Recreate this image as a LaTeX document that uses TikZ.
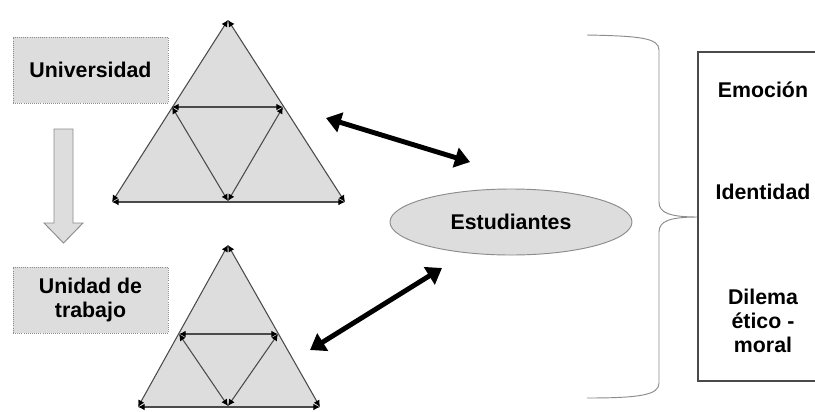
\documentclass[tikz,border=0pt]{standalone}
\usepackage{fontspec}
\setmainfont{Liberation Sans}
\usetikzlibrary{arrows.meta, shapes.geometric}
\definecolor{cfill}{HTML}{DDDDDD}
\definecolor{cline}{HTML}{4A4A4A}
\definecolor{cborder}{HTML}{8C8C8C}
\tikzset{
  every picture/.style={font=\fontsize{18.2}{21}\selectfont\bfseries},
  labelbox/.style={draw=cborder, densely dotted, line width=0.8pt, fill=cfill, minimum width=4.65cm, minimum height=1.98cm, align=center},
  side/.style={draw=cline, line width=0.9pt, {Latex[black, length=2mm, width=2mm]}-{Latex[black, length=2mm, width=2mm]}},
  bigarrow/.style={line width=4.2pt, {Triangle[length=0.45cm, width=0.6cm]}-{Triangle[length=0.45cm, width=0.6cm]}},
  item/.style={align=center, font=\fontsize{18.2}{20.4}\selectfont\bfseries},
}
\begin{document}
\begin{tikzpicture}[x=0.03cm, y=-0.03cm]
  \useasboundingbox (0,0) rectangle (815,411);
  % left boxes and the hollow arrow between them
  \node[labelbox] (univ) at (90.5,70) {Universidad};
  \node[labelbox] (unid) at (90.5,300) {Unidad de\\trabajo};
  \draw[draw=cborder, fill=cfill, line width=0.8pt] (54,129) -- (73,129) -- (73,223) -- (83,223) -- (63.5,243) -- (44,223) -- (54,223) -- cycle;
  % upper triangle
  \coordinate (ua) at (228,20);
  \coordinate (ul) at (112,202);
  \coordinate (ur) at (345,202);
  \coordinate (um1) at (172,107);
  \coordinate (um2) at (283,107);
  \coordinate (um3) at (228,201);
  \fill[cfill] (ua) -- (ul) -- (ur) -- cycle;
  \foreach \a/\b in {ua/ul, ul/ur, ur/ua, um1/um2, um2/um3, um3/um1}
    \draw[side] (\a) -- (\b);
  % lower triangle
  \coordinate (la) at (228,245);
  \coordinate (ll) at (138,407);
  \coordinate (lr) at (320,407);
  \coordinate (lm1) at (179,334);
  \coordinate (lm2) at (278,334);
  \coordinate (lm3) at (228,406);
  \fill[cfill] (la) -- (ll) -- (lr) -- cycle;
  \foreach \a/\b in {la/ll, ll/lr, lr/la, lm1/lm2, lm2/lm3, lm3/lm1}
    \draw[side] (\a) -- (\b);
  % students
  \node[ellipse, draw=cborder, fill=cfill, line width=0.8pt, minimum width=7.26cm, minimum height=1.98cm] (stud) at (511,222) {Estudiantes};
  \coordinate (t1) at (326,118);
  \coordinate (s1) at (470,162);
  \coordinate (t2) at (310,350);
  \coordinate (s2) at (442,268);
  \draw[bigarrow] (t1) -- (s1);
  \draw[bigarrow] (t2) -- (s2);
  % brace and dimensions
  \coordinate (btip) at (698,217);
  \draw[cborder, line width=0.8pt] (587,35) .. controls (640,36) and (659,38) .. (659,50) -- (659,202)
    .. controls (659,213) and (670,217) .. (btip) .. controls (670,217) and (659,221) .. (659,232)
    -- (659,383) .. controls (659,395) and (640,398) .. (587,398);
  \coordinate (bx1) at (816,52);
  \coordinate (bx2) at (698,52);
  \coordinate (bx3) at (698,381);
  \coordinate (bx4) at (816,381);
  \draw[cline, line width=1pt] (bx1) -- (bx2) -- (bx3) -- (bx4);
  \node[item] (emo) at (763,90) {Emoción};
  \node[item] (ident) at (763,192) {Identidad};
  \node[item] (dilema) at (763,321) {Dilema\\ético -\\moral};
\end{tikzpicture}
\end{document}
